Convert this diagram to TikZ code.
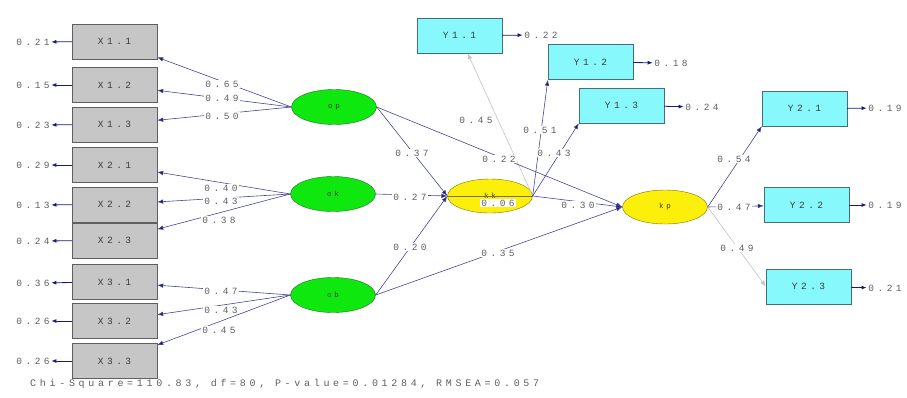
\documentclass[tikz,border=0pt]{standalone}
\usepackage{fontspec}
\newfontfamily\lis[LetterSpace=37]{Liberation Mono}
\usetikzlibrary{arrows.meta,shapes.geometric}
\definecolor{boxgray}{RGB}{198,198,198}
\definecolor{boxedge}{RGB}{95,95,95}
\definecolor{ycyan}{RGB}{135,248,252}
\definecolor{cyanedge}{RGB}{70,110,120}
\definecolor{latgreen}{RGB}{15,232,15}
\definecolor{greenedge}{RGB}{30,110,30}
\definecolor{endoyel}{RGB}{252,240,10}
\definecolor{yeledge}{RGB}{120,115,20}
\definecolor{navy}{RGB}{70,70,150}
\definecolor{tipnavy}{RGB}{25,25,120}
\definecolor{numgray}{RGB}{95,95,95}
\definecolor{txtdark}{RGB}{60,60,60}
\definecolor{fixgray}{RGB}{195,195,200}
\begin{document}
\begin{tikzpicture}[x=1pt,y=-1pt,
  font=\lis\fontsize{9.5}{11}\selectfont,
  xbox/.style={draw=boxedge,fill=boxgray,minimum width=85pt,minimum height=35pt,inner sep=0pt,text=txtdark},
  ybox/.style={draw=cyanedge,fill=ycyan,minimum width=85pt,minimum height=35pt,inner sep=0pt,text=txtdark},
  exo/.style={ellipse,draw=greenedge,fill=latgreen,minimum width=85pt,minimum height=35pt,inner sep=0pt,text=txtdark,font=\lis\fontsize{7.5}{9}\selectfont},
  endo/.style={ellipse,draw=yeledge,fill=endoyel,minimum width=85pt,minimum height=34pt,inner sep=0pt,text=txtdark,font=\lis\fontsize{7.5}{9}\selectfont},
  num/.style={text=numgray,inner sep=1pt,fill=white},
  errnum/.style={text=numgray,inner sep=1.5pt},
  conn/.style={draw=navy,line width=0.6pt,-{Latex[length=6pt,width=4.5pt,fill=tipnavy]}},
  fixconn/.style={draw=fixgray,line width=0.6pt,-{Latex[length=6pt,width=4.5pt,fill=fixgray]}},
  errarr/.style={draw=tipnavy,line width=0.8pt,-{Latex[length=5pt,width=4pt]}}
]
\useasboundingbox (0,0) rectangle (907,397);

% X indicators
\node[xbox] (x11) at (114.5,41.5) {X1.1};
\node[xbox] (x12) at (114.5,85) {X1.2};
\node[xbox] (x13) at (114.5,124.5) {X1.3};
\node[xbox] (x21) at (114.5,165) {X2.1};
\node[xbox] (x22) at (114.5,204.5) {X2.2};
\node[xbox] (x23) at (114.5,240.5) {X2.3};
\node[xbox] (x31) at (114.5,282) {X3.1};
\node[xbox] (x32) at (114.5,321) {X3.2};
\node[xbox] (x33) at (114.5,361) {X3.3};

% X error variances
\node[errnum] (ex11) at (33,42) {0.21};
\node[errnum] (ex12) at (33,85) {0.15};
\node[errnum] (ex13) at (33,125) {0.23};
\node[errnum] (ex21) at (33,165) {0.29};
\node[errnum] (ex22) at (33,205) {0.13};
\node[errnum] (ex23) at (33,241) {0.24};
\node[errnum] (ex31) at (33,283) {0.36};
\node[errnum] (ex32) at (33,321) {0.26};
\node[errnum] (ex33) at (33,361) {0.26};
\foreach \n in {11,12,13,21,22,23,31,32,33}{\draw[errarr] (x\n) -- (ex\n);}

% Latent variables
\node[exo] (op) at (334,107) {op};
\node[exo] (ok) at (333,194) {ok};
\node[exo] (ob) at (333,295) {ob};
\node[endo] (ku) at (490,196) {kk};
\node[endo] (kp) at (665,207) {kp};

% Y indicators
\node[ybox] (y11) at (459.5,35.5) {Y1.1};
\node[ybox] (y12) at (590.5,62) {Y1.2};
\node[ybox] (y13) at (621.5,105.5) {Y1.3};
\node[ybox] (y21) at (804.5,108.5) {Y2.1};
\node[ybox] (y22) at (806.5,205) {Y2.2};
\node[ybox] (y23) at (808.5,286.5) {Y2.3};

% Y error variances
\node[errnum] (ey11) at (541,35) {0.22};
\node[errnum] (ey12) at (671,63) {0.18};
\node[errnum] (ey13) at (702,107) {0.24};
\node[errnum] (ey21) at (885,108) {0.19};
\node[errnum] (ey22) at (885,205) {0.19};
\node[errnum] (ey23) at (885,288) {0.21};
\foreach \n in {11,12,13,21,22,23}{\draw[errarr] (y\n) -- (ey\n);}

% measurement paths (exogenous)
\draw[conn] (op.west) -- (x11);
\draw[conn] (op.west) -- (x12);
\draw[conn] (op.west) -- (x13);
\draw[conn] (ok.west) -- (x21);
\draw[conn] (ok.west) -- (x22);
\draw[conn] (ok.west) -- (x23);
\draw[conn] (ob.west) -- (x31);
\draw[conn] (ob.west) -- (x32);
\draw[conn] (ob.west) -- (x33);
\node[num] at (222,84) {0.65};
\node[num] at (222,98) {0.49};
\node[num] at (222,116) {0.50};
\node[num] at (221,188) {0.40};
\node[num] at (221,201) {0.43};
\node[num] at (219,220) {0.38};
\node[num] at (221,291) {0.47};
\node[num] at (221,310) {0.43};
\node[num] at (219,330) {0.45};

% measurement paths (endogenous)
\draw[fixconn] (ku.east) -- (y11);
\draw[conn] (ku.east) -- (y12.south west);
\draw[conn] (ku.east) -- (y13.south west);
\draw[conn] (kp.east) -- (y21.south west);
\draw[conn] (kp.east) -- (y22);
\draw[fixconn] (kp.east) -- (y23.west);
\node[num] at (476,120) {0.45};
\node[num] at (540,130) {0.51};
\node[num] at (554,153) {0.43};
\node[num] at (734,159) {0.54};
\node[num] at (734,207) {0.47};
\node[num] at (737,248) {0.49};

% structural paths
\draw[conn] (op.east) -- (ku.west);
\draw[conn] (op.east) -- (kp.west);
\draw[conn] (ok.east) -- (ku.west);
\draw[conn] (ob.east) -- (ku.west);
\draw[conn] (ob.east) -- (kp.west);
\draw[conn] (ku.east) -- (kp.west);
\node[num] at (412,153) {0.37};
\node[num] at (499,159) {0.22};
\node[num] at (410,197) {0.27};
\node[num] at (410,247) {0.20};
\node[num] at (498,253) {0.35};
\node[num] at (578,205) {0.30};

% error of endogenous latent
\draw[draw=yeledge,line width=0.5pt] (ku.west) -- (ku.east);
\node[num] (eku) at (498,203) {0.06};

% fit statistics
\node[text=numgray,anchor=west,inner sep=0pt,font=\lis\fontsize{10}{12}\selectfont] (fit) at (30,384) {Chi-Square=110.83, df=80, P-value=0.01284, RMSEA=0.057};
\end{tikzpicture}
\end{document}
